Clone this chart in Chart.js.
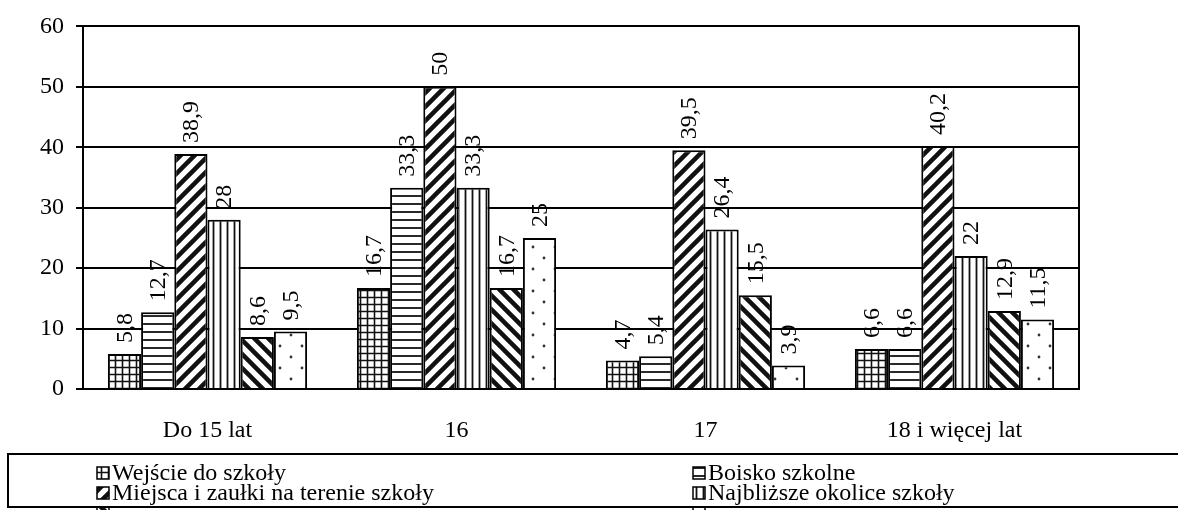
<!DOCTYPE html>
<html lang="pl">
<head>
<meta charset="utf-8">
<title>Miejsca zdarzeń według wieku</title>
<script src="https://cdn.jsdelivr.net/npm/chart.js@4.4.1/dist/chart.umd.min.js"></script>
<style>
    html, body { margin: 0; padding: 0; background: #fff; }
    #wrap { width: 1178px; height: 510px; position: relative; }
</style>
</head>
<body>
<div id="wrap"><canvas id="places-chart"></canvas></div>
<script>
// Grupy wiekowe (oś X)
const ageGroups = ['Do 15 lat', '16', '17', '18 i więcej lat'];

// Odsetki dla poszczególnych miejsc
const entranceValues = [5.8, 16.7, 4.7, 6.6];
const playgroundValues = [12.7, 33.3, 5.4, 6.6];
const cornersValues = [38.9, 50, 39.5, 40.2];
const surroundingsValues = [28, 33.3, 26.4, 22];
const corridorsValues = [8.6, 16.7, 15.5, 12.9];
const toiletsValues = [9.5, 25, 3.9, 11.5];

const seriesNames = [
    'Wejście do szkoły',
    'Boisko szkolne',
    'Miejsca i zaułki na terenie szkoły',
    'Najbliższe okolice szkoły',
    'Korytarze szkolne',
    'Toalety szkolne'
];

// Oś Y
const yTicks = [0, 10, 20, 30, 40, 50, 60];

const FONT = '"Liberation Serif", "Times New Roman", serif';

// --- wzory wypełnienia słupków (czarno-białe) ---
function makePattern(kind) {
    const c = document.createElement('canvas');
    const g = c.getContext('2d');
    let s = 8;
    if (kind === 'grid') s = 7;
    if (kind === 'hlines') s = 8;
    if (kind === 'vlines') s = 7;
    if (kind === 'fdiag' || kind === 'bdiag') s = 14;
    if (kind === 'dots') s = 22;
    c.width = s; c.height = s;
    g.fillStyle = '#fff';
    g.fillRect(0, 0, s, s);
    g.strokeStyle = '#111';
    g.fillStyle = '#333';
    if (kind === 'grid') {
        g.lineWidth = 1.6;
        g.beginPath();
        g.moveTo(3.5, 0); g.lineTo(3.5, s);
        g.moveTo(0, 3.5); g.lineTo(s, 3.5);
        g.stroke();
    } else if (kind === 'hlines') {
        g.lineWidth = 1.8;
        g.beginPath();
        g.moveTo(0, 4); g.lineTo(s, 4);
        g.stroke();
    } else if (kind === 'vlines') {
        g.lineWidth = 1.8;
        g.beginPath();
        g.moveTo(3.5, 0); g.lineTo(3.5, s);
        g.stroke();
    } else if (kind === 'fdiag') {
        g.lineWidth = 4.5;
        g.beginPath();
        g.moveTo(0, s); g.lineTo(s, 0);
        g.moveTo(-2, 2); g.lineTo(2, -2);
        g.moveTo(s - 2, s + 2); g.lineTo(s + 2, s - 2);
        g.stroke();
    } else if (kind === 'bdiag') {
        g.lineWidth = 4.5;
        g.beginPath();
        g.moveTo(0, 0); g.lineTo(s, s);
        g.moveTo(s - 2, -2); g.lineTo(s + 2, 2);
        g.moveTo(-2, s - 2); g.lineTo(2, s + 2);
        g.stroke();
    } else if (kind === 'dots') {
        g.beginPath();
        g.arc(5, 5, 1.4, 0, Math.PI * 2);
        g.arc(16, 16, 1.4, 0, Math.PI * 2);
        g.fill();
    }
    return g.createPattern(c, 'repeat');
}

const patternKinds = ['grid', 'hlines', 'fdiag', 'vlines', 'bdiag', 'dots'];
const patterns = patternKinds.map(makePattern);
const seriesValues = [entranceValues, playgroundValues, cornersValues, surroundingsValues, corridorsValues, toiletsValues];

const datasets = seriesValues.map((vals, i) => ({
    label: seriesNames[i],
    data: vals,
    backgroundColor: patterns[i],
    borderColor: '#000',
    borderWidth: 2,
    categoryPercentage: 0.8,
    barPercentage: 1.0
}));

function fmt(v) {
    return String(v).replace('.', ',');
}

// Wartości nad słupkami, obrócone pionowo
const barValueLabels = {
    id: 'barValueLabels',
    afterDatasetsDraw(chart) {
        const ctx = chart.ctx;
        ctx.save();
        ctx.font = '24px ' + FONT;
        ctx.fillStyle = '#000';
        ctx.textAlign = 'left';
        ctx.textBaseline = 'middle';
        chart.data.datasets.forEach((ds, di) => {
            const meta = chart.getDatasetMeta(di);
            meta.data.forEach((bar, idx) => {
                ctx.save();
                ctx.translate(bar.x + 1, bar.y - 11);
                ctx.rotate(-Math.PI / 2);
                ctx.fillText(fmt(ds.data[idx]), 0, 0);
                ctx.restore();
            });
        });
        ctx.restore();
    }
};

// Prawa krawędź obszaru wykresu
const rightBorder = {
    id: 'rightBorder',
    afterDraw(chart) {
        const a = chart.chartArea;
        const ctx = chart.ctx;
        ctx.save();
        ctx.strokeStyle = '#000';
        ctx.lineWidth = 2;
        ctx.beginPath();
        ctx.moveTo(a.right, a.top - 1);
        ctx.lineTo(a.right, a.bottom + 1);
        ctx.stroke();
        ctx.restore();
    }
};

// Legenda w ramce pod wykresem, dwie kolumny (trzeci wiersz ucięty ramką)
const boxedLegend = {
    id: 'boxedLegend',
    afterDraw(chart) {
        const ctx = chart.ctx;
        const top = 454, bottom = 507, left = 8;
        ctx.save();
        ctx.font = '24px ' + FONT;
        ctx.textAlign = 'left';
        ctx.textBaseline = 'middle';
        const cols = [97, 693];
        chart.data.datasets.forEach((ds, i) => {
            const cx = cols[i % 2];
            const cy = 473 + Math.floor(i / 2) * 20;
            ctx.fillStyle = ds.backgroundColor;
            ctx.fillRect(cx, cy - 6, 12, 12);
            ctx.strokeStyle = '#000';
            ctx.lineWidth = 1.5;
            ctx.strokeRect(cx, cy - 6, 12, 12);
            // tekst tylko dla wierszy mieszczących się w ramce
            if (cy + 8 < bottom) {
                ctx.fillStyle = '#000';
                ctx.fillText(ds.label, cx + 15, cy + 1);
            }
        });

        ctx.strokeStyle = '#000';
        ctx.lineWidth = 2;
        ctx.beginPath();
        ctx.moveTo(chart.width, top);
        ctx.lineTo(left, top);
        ctx.lineTo(left, bottom);
        ctx.lineTo(chart.width, bottom);
        ctx.stroke();
        ctx.restore();
    }
};

const ctx = document.getElementById('places-chart').getContext('2d');
new Chart(ctx, {
    type: 'bar',
    data: {
        labels: ageGroups,
        datasets: datasets
    },
    options: {
        responsive: true,
        maintainAspectRatio: false,
        animation: false,
        layout: {
            padding: { top: 23, right: 99, bottom: 0, left: 0 }
        },
        plugins: {
            legend: { display: false },
            tooltip: { enabled: false }
        },
        scales: {
            x: {
                grid: { display: false },
                border: { display: true, color: '#000', width: 2 },
                ticks: {
                    color: '#000',
                    padding: 19,
                    font: { family: FONT, size: 24 }
                },
                afterFit(scale) { scale.height = 121; }
            },
            y: {
                min: yTicks[0],
                max: yTicks[yTicks.length - 1],
                afterBuildTicks(scale) {
                    scale.ticks = yTicks.map(v => ({ value: v }));
                },
                grid: {
                    color: '#000',
                    lineWidth: 2,
                    drawTicks: true,
                    tickLength: 7,
                    tickColor: '#000'
                },
                border: { display: true, color: '#000', width: 2 },
                ticks: {
                    color: '#000',
                    padding: 12,
                    font: { family: FONT, size: 24 }
                },
                afterFit(scale) { scale.width = 83; }
            }
        }
    },
    plugins: [barValueLabels, rightBorder, boxedLegend]
});
</script>
</body>
</html>
